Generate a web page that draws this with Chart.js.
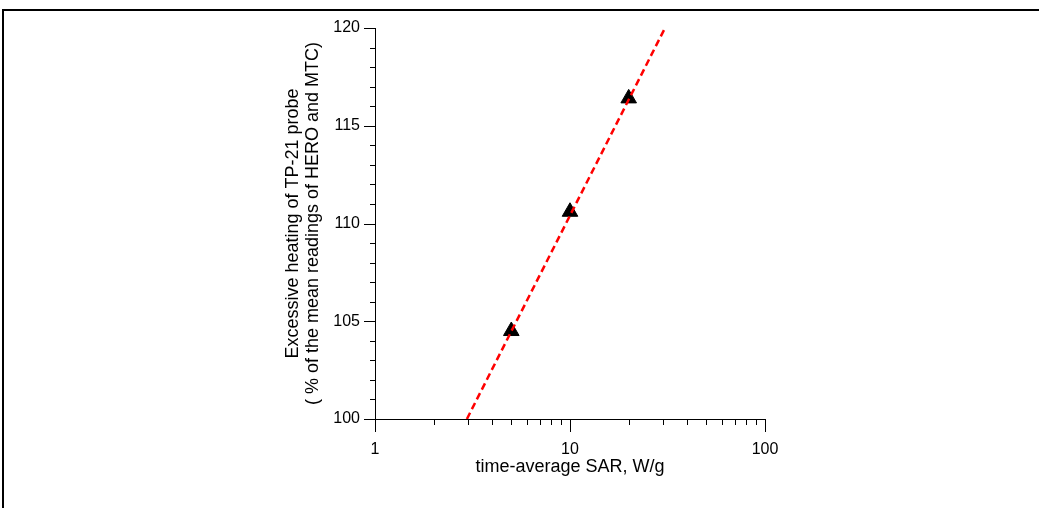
<!DOCTYPE html>
<html>
<head>
<meta charset="utf-8">
<script src="https://cdn.jsdelivr.net/npm/chart.js@4"></script>
<style>
  body { margin: 0; background: #fff; }
  canvas { display: block; }
</style>
</head>
<body>
<canvas id="myChart" width="1039" height="508"></canvas>
<script>
// measured points
var sar = [5, 10, 20];
var heating = [104.5, 110.6, 116.4];

// fitted line (end points)
var fitSar = [2.96, 30.7];
var fitHeating = [100, 120];

// tick labels / marks
var xMajor = [1, 10, 100];
var xMinor = [2, 3, 4, 5, 6, 7, 8, 9, 20, 30, 40, 50, 60, 70, 80, 90];
var yMajor = [100, 105, 110, 115, 120];
var yMinor = [101, 102, 103, 104, 106, 107, 108, 109, 111, 112, 113, 114, 116, 117, 118, 119];

var FONT = "'Liberation Sans', Arial, sans-serif";

// frame round the picture (no bottom edge)
var framePlugin = {
    id: 'frame',
    beforeDraw: function (chart) {
        var c = chart.ctx;
        c.save();
        c.fillStyle = '#fff';
        c.fillRect(0, 0, chart.width, chart.height);
        c.strokeStyle = '#000';
        c.lineWidth = 2;
        c.beginPath();
        c.moveTo(3, chart.height);
        c.lineTo(3, 10);
        c.lineTo(chart.width, 10);
        c.stroke();
        c.restore();
    }
};

// tick marks outside the axes, long for majors and short for minors
var tickPlugin = {
    id: 'ticks',
    afterDraw: function (chart) {
        var c = chart.ctx;
        var xs = chart.scales.x, ys = chart.scales.y;
        var left = chart.chartArea.left, bottom = chart.chartArea.bottom;
        c.save();
        c.strokeStyle = '#000';
        c.lineWidth = 1;
        c.beginPath();
        xMajor.forEach(function (v) {
            var p = Math.round(xs.getPixelForValue(v)) + 0.5;
            c.moveTo(p, bottom); c.lineTo(p, bottom + 13);
        });
        xMinor.forEach(function (v) {
            var p = Math.round(xs.getPixelForValue(v)) + 0.5;
            c.moveTo(p, bottom); c.lineTo(p, bottom + 6);
        });
        yMajor.forEach(function (v) {
            var p = Math.round(ys.getPixelForValue(v)) + 0.5;
            c.moveTo(left - 11, p); c.lineTo(left, p);
        });
        yMinor.forEach(function (v) {
            var p = Math.round(ys.getPixelForValue(v)) + 0.5;
            c.moveTo(left - 5, p); c.lineTo(left, p);
        });
        c.stroke();
        c.restore();
    }
};

var ctx = document.getElementById('myChart');
var myChart = new Chart(ctx, {
    type: 'scatter',
    data: {
        datasets: [
            {
                label: 'fit',
                data: fitSar.map(function (x, i) { return { x: x, y: fitHeating[i] }; }),
                showLine: true,
                borderColor: '#ff0000',
                borderWidth: 2.5,
                borderDash: [7, 4],
                pointRadius: 0,
                order: 0
            },
            {
                label: 'TP-21',
                data: sar.map(function (x, i) { return { x: x, y: heating[i] }; }),
                pointStyle: 'triangle',
                pointRadius: 9,
                backgroundColor: '#000',
                borderColor: '#000',
                borderWidth: 1,
                order: 1
            }
        ]
    },
    options: {
        responsive: false,
        animation: false,
        layout: { padding: { left: 280, right: 274, top: 28, bottom: 0 } },
        plugins: {
            legend: { display: false },
            tooltip: { enabled: false }
        },
        scales: {
            x: {
                type: 'logarithmic',
                min: 1,
                max: 100,
                afterBuildTicks: function (scale) {
                    scale.ticks = xMajor.map(function (v) { return { value: v }; });
                },
                afterFit: function (scale) { scale.height = 89; },
                grid: { display: false, drawTicks: false },
                border: { display: true, color: '#000', width: 1 },
                ticks: {
                    padding: 21,
                    color: '#000',
                    font: { family: FONT, size: 16 },
                    callback: function (v) { return String(v); }
                },
                title: {
                    display: true,
                    text: 'time-average SAR, W/g',
                    color: '#000',
                    font: { family: FONT, size: 18, lineHeight: 1.11 },
                    padding: { top: 0, bottom: 31 }
                }
            },
            y: {
                min: 100,
                max: 120,
                afterBuildTicks: function (scale) {
                    scale.ticks = yMajor.map(function (v) { return { value: v }; });
                },
                afterFit: function (scale) { scale.width = 95; },
                grid: { display: false, drawTicks: false },
                border: { display: true, color: '#000', width: 1 },
                ticks: {
                    padding: 15,
                    color: '#000',
                    font: { family: FONT, size: 16 }
                },
                title: {
                    display: true,
                    text: ['Excessive heating of TP-21 probe', '( % of the mean readings of HERO and MTC)'],
                    color: '#000',
                    font: { family: FONT, size: 18, lineHeight: 1.11 },
                    padding: { top: 3, bottom: 0 }
                }
            }
        }
    },
    plugins: [framePlugin, tickPlugin]
});
</script>
</body>
</html>
